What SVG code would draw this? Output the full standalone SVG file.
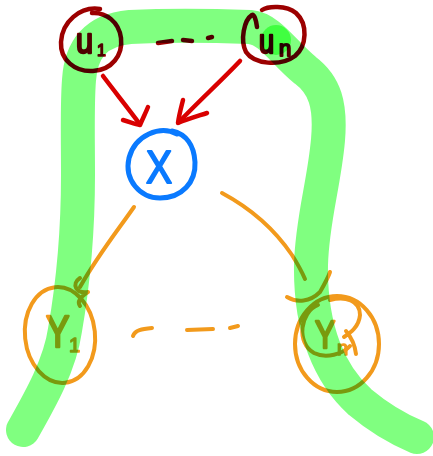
<svg xmlns="http://www.w3.org/2000/svg" width="433" height="456" viewBox="0 0 433 456">
  <style>
    .ink { fill: none; stroke-linecap: round; stroke-linejoin: round; }
    .red { stroke: #9c0000; stroke-width: 4.5; }
    .arrow { stroke: #d90000; stroke-width: 4.5; }
    .blue { stroke: #0a7aff; stroke-width: 5; }
    .orange { stroke: #f29a1c; stroke-width: 4; }
    .band { stroke: #80ff80; stroke-width: 34; fill: none; stroke-linecap: round; stroke-linejoin: round; mix-blend-mode: multiply; }
    .glow { fill: #80ff80; mix-blend-mode: multiply; }
    .lbl { font-family: "Liberation Sans", "DejaVu Sans", sans-serif; stroke-linejoin: round; }
  </style>

  <g id="connectors">
    <path class="ink arrow" d="M103,76 C115,92 128,108 139,123"/>
    <path class="ink arrow" d="M123,120 C130,122 135,124 140,125 C143,118 146,112 148,107"/>
    <path class="ink arrow" d="M240,61 C222,80 198,102 179,122"/>
    <path class="ink arrow" d="M183,100 C181,108 179,115 178,123 C188,119 198,116 207,113"/>
    <path class="ink orange" d="M134,207 C118,230 98,255 80,287"/>
    <path class="ink orange" d="M80,278 C71,284 76,294 88,292 C80,297 77,302 80,306"/>
    <path class="ink orange" d="M222,193 C250,208 275,230 292,255 C297,263 302,272 305,279"/>
    <path class="ink orange" d="M287,297 C297,303 310,302 320,292 C324,285 328,278 330,272"/>
  </g>

  <g id="node-u1">
    <path class="ink red" d="M100,9 C80,6 62,22 61,42 C60,60 75,72 93,71 C112,70 123,55 121,38 C119,22 106,12 92,13"/>
    <text class="lbl" x="76" y="53" font-size="36" fill="#9c0000" stroke="#9c0000" stroke-width="2.5" transform="translate(76 53) scale(0.85 1) translate(-76 -53)">u</text>
    <text class="lbl" x="97" y="56" font-size="16" fill="#9c0000" stroke="#9c0000" stroke-width="1.5">1</text>
  </g>

  <g id="node-un">
    <path class="ink red" d="M257,27 C256,19 254,14 252,15 C244,20 240,40 246,52 C254,64 280,67 295,56 C307,46 308,24 296,13 C286,5 268,6 262,10"/>
    <text class="lbl" x="259" y="53" font-size="34" fill="#9c0000" stroke="#9c0000" stroke-width="2.5" transform="translate(259 53) scale(0.8 1) translate(-259 -53)">u</text>
    <text class="lbl" x="279" y="56" font-size="22" fill="#9c0000" stroke="#9c0000" stroke-width="2">n</text>
  </g>

  <g id="dashes-top">
    <path class="ink red" d="M158,43 L172,41 M183,40 L192,41 M208,38 L212,37"/>
  </g>

  <g id="node-x">
    <path class="ink blue" d="M177,134 C160,125 135,135 129,158 C124,180 140,198 160,198 C182,198 196,182 195,162 C194,145 186,134 172,131"/>
    <text class="lbl" x="146" y="183" font-size="46" fill="#0a7aff" stroke="#0a7aff" stroke-width="2" transform="translate(146 183) scale(0.85 1) translate(-146 -183)">X</text>
  </g>

  <g id="node-y1">
    <ellipse class="ink orange" cx="60" cy="335" rx="35" ry="48" transform="rotate(-6 60 335)"/>
    <text class="lbl" x="46" y="347" font-size="44" fill="#f29a1c" stroke="#f29a1c" stroke-width="2.5" transform="translate(46 347) scale(0.8 1) translate(-46 -347)">Y</text>
    <text class="lbl" x="69" y="352" font-size="20" fill="#f29a1c" stroke="#f29a1c" stroke-width="1.5">1</text>
  </g>

  <g id="node-yn">
    <ellipse class="ink orange" cx="337" cy="344" rx="42" ry="48"/>
    <path class="ink orange" d="M318,305 C300,312 296,343 314,353 C326,359 343,354 350,346"/>
    <path class="ink orange" d="M330,300 C345,296 360,300 360,315 C359,327 350,333 344,337 M346,331 C351,337 355,345 356,354"/>
    <text class="lbl" x="315" y="348" font-size="38" fill="#f29a1c" stroke="#f29a1c" stroke-width="2.5" transform="translate(315 348) scale(0.8 1) translate(-315 -348)">Y</text>
    <text class="lbl" x="337" y="355" font-size="20" fill="#f29a1c" stroke="#f29a1c" stroke-width="1.5">n</text>
  </g>

  <g id="dashes-bottom">
    <path class="ink orange" d="M133,336 C135,330 142,329 152,328 M187,330 L213,329 M230,328 L238,326"/>
  </g>

  <!-- translucent marker band, multiplied over the ink beneath -->
  <g id="band">
    <path class="band" d="M23,430 C40,400 60,365 65,330 C72,290 78,240 78,175 C78,135 77,105 79,80 C81,50 95,30 130,27 C175,25 220,26 250,27 C270,29 283,52 305,70 C325,85 331,105 328,140 C324,185 312,220 311,265 C310,330 330,375 360,402 C385,423 405,432 417,437"/>
    <circle class="glow" cx="276" cy="40" r="15"/>
  </g>
</svg>
